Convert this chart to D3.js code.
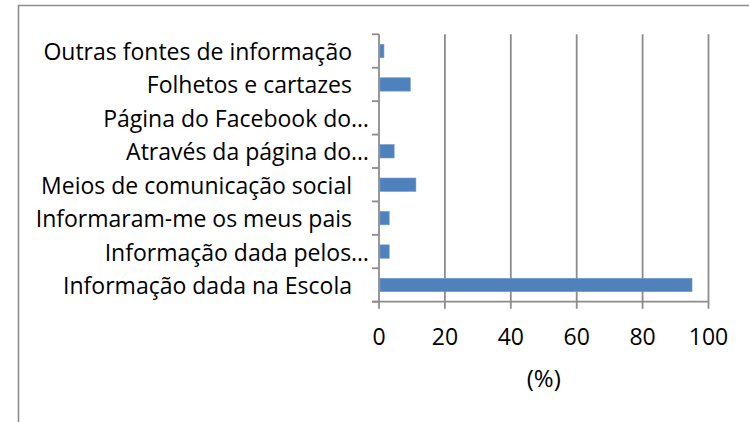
<!DOCTYPE html>
<html>
<head>
<meta charset="utf-8">
<script src="https://cdn.jsdelivr.net/npm/d3@7"></script>
<style>
  html, body { margin: 0; padding: 0; background: #fff; }
  svg { display: block; }
  text { font-family: "Open Sans", Lato, sans-serif; fill: #000; }
</style>
</head>
<body>
<svg id="chart" width="749" height="422"></svg>
<script>
// Categories listed from top to bottom
const categories = [
  "Outras fontes de informação",
  "Folhetos e cartazes",
  "Página do Facebook do…",
  "Através da página do…",
  "Meios de comunicação social",
  "Informaram-me os meus pais",
  "Informação dada pelos…",
  "Informação dada na Escola"
];
const values = [1.5, 9.5, 0, 4.6, 11.2, 3.1, 3.1, 95.0];
const xTicks = [0, 20, 40, 60, 80, 100];
const xTitle = "(%)";

const svg = d3.select("#chart");
const gridColor = "#8c8c8c";

// Chart frame (top and left edges)
svg.append("path")
  .attr("d", "M18.5,422 V5.5 H749")
  .attr("fill", "none")
  .attr("stroke", gridColor)
  .attr("stroke-width", 1.6);

const plot = { left: 379, right: 708.5, top: 34.3, bottom: 301.7 };

const x = d3.scaleLinear().domain([0, 100]).range([plot.left, plot.right]);
const y = d3.scaleBand()
  .domain(categories)
  .range([plot.top, plot.bottom])
  .paddingInner(0.6)
  .paddingOuter(0.3);

const tickLen = 7;

// Vertical gridlines (extend below the axis as tick marks)
svg.append("g").selectAll("line")
  .data(xTicks)
  .join("line")
  .attr("x1", d => x(d)).attr("x2", d => x(d))
  .attr("y1", plot.top).attr("y2", plot.bottom + tickLen)
  .attr("stroke", gridColor)
  .attr("stroke-width", 1.8);

// Horizontal axis line
svg.append("line")
  .attr("x1", plot.left - tickLen).attr("x2", plot.right)
  .attr("y1", plot.bottom).attr("y2", plot.bottom)
  .attr("stroke", gridColor).attr("stroke-width", 1.8);

// Category boundary ticks on the vertical axis
const boundaries = d3.range(categories.length + 1)
  .map(i => plot.top + i * y.step());
svg.append("g").selectAll("line")
  .data(boundaries)
  .join("line")
  .attr("x1", plot.left - tickLen).attr("x2", plot.left)
  .attr("y1", d => d).attr("y2", d => d)
  .attr("stroke", gridColor).attr("stroke-width", 1.8);

// Bars
svg.append("g").selectAll("rect")
  .data(categories.map((c, i) => ({ c, v: values[i] })))
  .join("rect")
  .attr("x", x(0) + 1)
  .attr("y", d => y(d.c))
  .attr("width", d => Math.max(0, x(d.v) - x(0) - 1))
  .attr("height", y.bandwidth())
  .attr("fill", "#4f81bd")
  .attr("stroke", "#6f98cc")
  .attr("stroke-width", 0.6);

// Category labels
svg.append("g").selectAll("text")
  .data(categories)
  .join("text")
  .attr("x", d => d.endsWith("…") ? 369 : 352)
  .attr("y", d => y(d) + y.bandwidth() / 2)
  .attr("text-anchor", "end")
  .attr("dominant-baseline", "central")
  .style("font-size", "23px")
  .text(d => d);

// Value axis tick labels
svg.append("g").selectAll("text")
  .data(xTicks)
  .join("text")
  .attr("x", d => x(d))
  .attr("y", 336)
  .attr("text-anchor", "middle")
  .attr("dominant-baseline", "central")
  .style("font-size", "23px")
  .text(d => d);

// Axis title
svg.append("text")
  .attr("x", (plot.left + plot.right) / 2)
  .attr("y", 377)
  .attr("text-anchor", "middle")
  .attr("dominant-baseline", "central")
  .style("font-size", "24px")
  .text(xTitle);
</script>
</body>
</html>
